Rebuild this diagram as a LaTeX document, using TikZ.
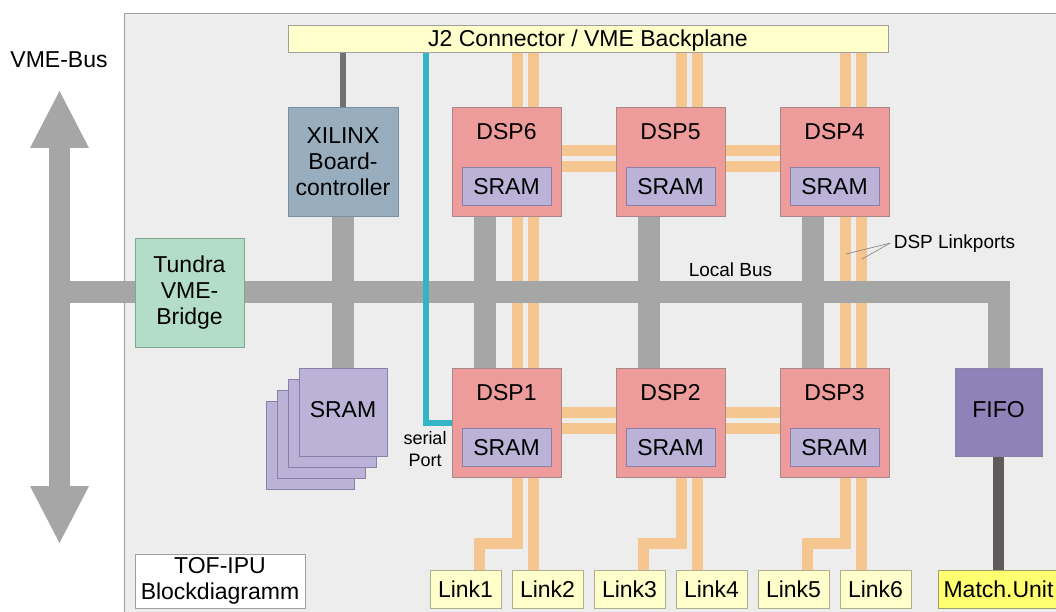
\documentclass[tikz,border=0pt]{standalone}
\usepackage{fontspec}
\setmainfont{Liberation Sans}
\usetikzlibrary{calc}
\pgfdeclarelayer{panel}
\pgfdeclarelayer{orange}
\pgfdeclarelayer{busl}
\pgfsetlayers{panel,orange,busl,main}
\definecolor{panelc}{HTML}{EDEDED}
\definecolor{panelline}{HTML}{A0A0A0}
\definecolor{j2c}{HTML}{FFFFCC}
\definecolor{xilc}{HTML}{98AEBF}
\definecolor{xilline}{HTML}{7890A0}
\definecolor{tunc}{HTML}{B3DDC9}
\definecolor{tunline}{HTML}{80A890}
\definecolor{dspc}{HTML}{EE9B9B}
\definecolor{dspline}{HTML}{A88888}
\definecolor{sramc}{HTML}{BBB3D7}
\definecolor{sramline}{HTML}{8A80A8}
\definecolor{fifoc}{HTML}{8F82B9}
\definecolor{orangec}{HTML}{F6C690}
\definecolor{busgray}{HTML}{A6A6A6}
\definecolor{darkc}{HTML}{707070}
\definecolor{darkcc}{HTML}{605A5A}
\definecolor{tealc}{HTML}{33B5C5}
\definecolor{linkc}{HTML}{FFFFCC}
\definecolor{linkline}{HTML}{B0B090}
\definecolor{matchc}{HTML}{FFFF70}
\definecolor{matchline}{HTML}{A0A060}
\begin{document}
\begin{tikzpicture}[x=1pt,y=-1pt,
  box/.style={draw=panelline, line width=0.8pt, inner sep=0pt, outer sep=0pt, anchor=center},
  bigtext/.style={font=\fontsize{23}{26}\selectfont},
  onel/.style={text height=16.5pt, text depth=0pt},
  onelup/.style={text height=16.5pt, text depth=6pt},
  bus/.style={line width=22pt, draw=busgray},
  lport/.style={line width=11pt, draw=orangec},
  ptr/.style={line width=0.6pt, draw=gray}]
\useasboundingbox (0,0) rectangle (1056,612);
\begin{pgfonlayer}{panel}
\fill[white] (0,0) rectangle (1056,612);
\draw[fill=panelc, draw=panelline, line width=1pt] (124,14) rectangle (1058,614);
\end{pgfonlayer}

% boxes
\node[box, fill=j2c, minimum width=600pt, minimum height=27pt, bigtext, onel] (j2) at (588,38.5) {J2 Connector / VME Backplane};
\node[box, fill=xilc, draw=xilline, minimum width=110pt, minimum height=109pt, bigtext, align=center] (xil) at (343,161.5) {XILINX\\Board-\\controller};
\node[box, fill=tunc, draw=tunline, minimum width=109pt, minimum height=109pt, bigtext, align=center] (tundra) at (189.5,292.5) {Tundra\\VME-\\Bridge};

\foreach \n/\x/\y in {6/506.5/161.5, 5/670.5/161.5, 4/834.5/161.5, 1/506.5/422.5, 2/670.5/422.5, 3/834.5/422.5} {
  \node[box, fill=dspc, draw=dspline, minimum width=109pt, minimum height=109pt] (dsp\n) at (\x,\y) {};
  \node[bigtext, onel, inner sep=0pt] (dspt\n) at ($(dsp\n.north)+(0,24)$) {DSP\n};
  \node[box, fill=sramc, draw=sramline, minimum width=89pt, minimum height=38pt, bigtext, onel] (dsps\n) at ($(dsp\n.north)+(0,79)$) {SRAM};
  \coordinate (da\n) at ($(dsp\n.north west)+(65.5,0)$);
  \coordinate (db\n) at ($(dsp\n.north west)+(81.5,0)$);
}

% SRAM stack
\node[box, fill=sramc, draw=sramline, minimum width=88pt, minimum height=88pt] (sramd) at (310,445) {};
\node[box, fill=sramc, draw=sramline, minimum width=88pt, minimum height=88pt] (sramc) at (321,434) {};
\node[box, fill=sramc, draw=sramline, minimum width=88pt, minimum height=88pt] (sramb) at (332,423) {};
\node[box, fill=sramc, draw=sramline, minimum width=88pt, minimum height=88pt, bigtext, onelup] (srama) at (343,412) {SRAM};

\node[box, fill=fifoc, draw=sramline, minimum width=87pt, minimum height=88pt, bigtext, onelup] (fifo) at (998.5,412) {FIFO};

\foreach \i/\x in {1/465.5,2/547.5,3/629.5,4/711.5,5/793.5,6/875.5}
  \node[box, fill=linkc, draw=linkline, minimum width=71pt, minimum height=38pt, bigtext, onel] (link\i) at (\x,589) {Link\i};
\node[box, fill=matchc, draw=matchline, minimum width=121pt, minimum height=38pt, bigtext, onel] (match) at (998.5,589) {Match.Unit};

\node[box, fill=white, minimum width=170pt, minimum height=54pt, bigtext, align=center] (tof) at (220,581) {TOF-IPU\\Blockdiagramm};

% labels
\node[bigtext, anchor=base] (vmel) at (59,68) {VME-Bus};
\node[font=\fontsize{19}{22}\selectfont, anchor=base] (lbus) at (730.5,276) {Local Bus};
\node[font=\fontsize{19}{22}\selectfont, anchor=base] (dspl) at (954.5,248) {DSP Linkports};
\node[font=\fontsize{18}{22}\selectfont, align=center, inner sep=0pt] (spl) at (425,449) {serial\\Port};
\coordinate (lp1) at (846,254);
\coordinate (lp2) at (862,259);
\draw[ptr] (dspl.west) -- (lp1);
\draw[ptr] (dspl.west) -- (lp2);

% link ports
\begin{pgfonlayer}{orange}
\foreach \n in {6,5,4} {
  \draw[lport] (da\n |- j2.south) -- (da\n);
  \draw[lport] (db\n |- j2.south) -- (db\n);
}
\draw[lport] (da6) -- (da1);
\draw[lport] (db6) -- (db1);
\draw[lport] (da4) -- (da3);
\draw[lport] (db4) -- (db3);
\draw[lport] ($(dsp6.north)+(0,44)$) -- ($(dsp4.north)+(0,44)$);
\draw[lport] ($(dsp6.north)+(0,60)$) -- ($(dsp4.north)+(0,60)$);
\draw[lport] ($(dsp1.north)+(0,44)$) -- ($(dsp3.north)+(0,44)$);
\draw[lport] ($(dsp1.north)+(0,60.5)$) -- ($(dsp3.north)+(0,60.5)$);
\foreach \n/\la/\lb in {1/link1/link2, 2/link3/link4, 3/link5/link6} {
  \coordinate (jg\n) at ($(dsp\n.south west)+(27.5,66)$);
  \draw[lport] (da\n) |- (jg\n) -- (jg\n |- \la.north);
  \draw[lport] (db\n) -- (db\n |- \lb.north);
}
\end{pgfonlayer}

% buses
\begin{pgfonlayer}{busl}
\coordinate (vmetop) at (59.5,91);
\coordinate (vmebot) at (59.5,543);
\coordinate (lbl) at (59.5,292);
\draw[line width=21pt, draw=busgray] (59.5,147) -- (59.5,487);
\fill[busgray] (30,148) -- (vmetop) -- (89,148) -- cycle;
\fill[busgray] (30,486) -- (vmebot) -- (89,486) -- cycle;
\draw[bus] (lbl) -- (lbl -| fifo.north) -- (fifo.north);
\draw[bus] (xil.south) -- (srama.north);
\foreach \n/\m in {6/1,5/2,4/3}
  \draw[bus] ($(dsp\n.south west)+(33,0)$) -- ($(dsp\m.north west)+(33,0)$);
\draw[line width=6pt, draw=darkc] (xil.north) -- (xil.north |- j2.south);
\draw[line width=11pt, draw=darkcc] (fifo.south) -- (match.north);
\draw[line width=6pt, draw=tealc] ($(j2.south west)+(137.5,0)$) |- (dsp1.west);
\end{pgfonlayer}
\end{tikzpicture}
\end{document}
